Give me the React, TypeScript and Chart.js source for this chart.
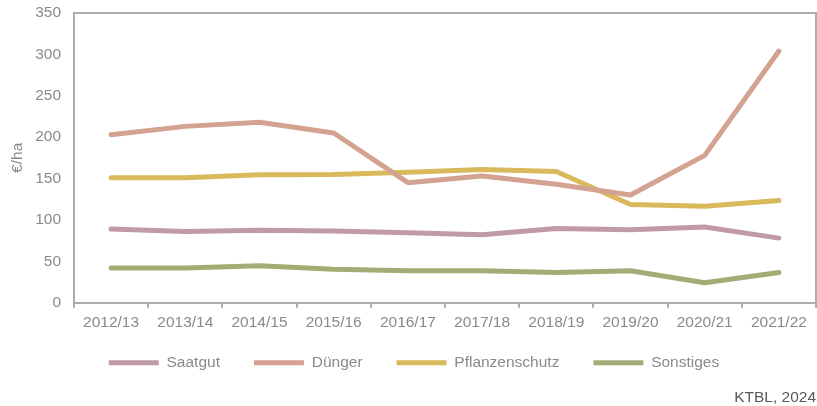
import React, { useEffect, useRef } from "react";
import { Chart, registerables } from "chart.js";

Chart.register(...registerables);

const categories = ["2012/13", "2013/14", "2014/15", "2015/16", "2016/17", "2017/18", "2018/19", "2019/20", "2020/21", "2021/22"];
const saatgut = [89, 86, 87.5, 86.5, 84.5, 82, 89.5, 88, 91.5, 78];
const duenger = [203, 213, 218, 205, 145, 153, 143, 130, 178, 304];
const pflanzenschutz = [151, 151, 154.5, 155, 157.5, 161, 158.5, 118.5, 116.5, 123.5];
const sonstiges = [42, 42, 44.5, 40.5, 38.5, 38.5, 36.5, 38.5, 24, 36.5];
const yTicks = [0, 50, 100, 150, 200, 250, 300, 350];

const FONT = "'Liberation Sans', Arial, sans-serif";
const GRAY_TEXT = "#8a8a8a";
const AXIS = "#acacac";

export default function App() {
  const ref = useRef<HTMLCanvasElement | null>(null);

  useEffect(() => {
    const canvas = ref.current;
    if (!canvas) return;
    Chart.defaults.font.family = FONT;

    const boxPlugin = {
      id: "plotBox",
      afterDatasetsDraw(chart: any) {
        const { ctx, chartArea } = chart;
        ctx.save();
        ctx.strokeStyle = AXIS;
        ctx.lineWidth = 2;
        ctx.beginPath();
        ctx.moveTo(chartArea.left, chartArea.top);
        ctx.lineTo(chartArea.right, chartArea.top);
        ctx.lineTo(chartArea.right, chartArea.bottom);
        ctx.stroke();
        ctx.restore();
      },
    };

    const mk = (label: string, data: number[], color: string) => ({
      label,
      data,
      borderColor: color,
      backgroundColor: color,
      borderWidth: 5,
      borderCapStyle: "round" as const,
      borderJoinStyle: "round" as const,
      pointRadius: 0,
      pointHoverRadius: 0,
      tension: 0,
      fill: false,
    });

    const chart = new Chart(canvas, {
      type: "line",
      data: {
        labels: categories,
        datasets: [
          mk("Saatgut", saatgut, "#c09aa6"),
          mk("Dünger", duenger, "#d3a291"),
          mk("Pflanzenschutz", pflanzenschutz, "#d9b95b"),
          mk("Sonstiges", sonstiges, "#a1ad74"),
        ],
      },
      options: {
        responsive: false,
        animation: false,
        layout: { padding: { top: 13, right: 1, left: 12, bottom: 0 } },
        scales: {
          x: {
            offset: true,
            grid: {
              display: true,
              offset: true,
              drawOnChartArea: false,
              drawTicks: true,
              tickLength: 5,
              color: AXIS,
              lineWidth: 2,
            },
            border: { display: true, color: AXIS, width: 2 },
            ticks: { color: GRAY_TEXT, font: { size: 15.5 }, padding: 6, maxRotation: 0, autoSkip: false },
            afterFit: (s: any) => {
              s.height = 18.25;
              s.paddingLeft = 0;
              s.paddingRight = 0;
              s._computeLabelArea = () => undefined;
            },
          },
          y: {
            min: 0,
            max: 350,
            afterBuildTicks: (s: any) => {
              s.ticks = yTicks.map((v) => ({ value: v }));
            },
            grid: { display: false, drawTicks: false },
            border: { display: true, color: AXIS, width: 2 },
            ticks: { color: GRAY_TEXT, font: { size: 15.5 }, padding: 13 },
            title: { display: true, text: "€/ha", color: GRAY_TEXT, font: { size: 15.5 }, padding: { top: -4, bottom: 0 } },
            afterFit: (s: any) => {
              s.width = 62;
              s.paddingTop = 0;
              s.paddingBottom = 0;
            },
          },
        },
        plugins: {
          legend: {
            display: true,
            position: "bottom",
            align: "center",
            labels: {
              usePointStyle: true,
              pointStyle: "line",
              pointStyleWidth: 50,
              boxHeight: 15.5,
              padding: 34,
              color: GRAY_TEXT,
              font: { size: 15.5 },
            },
          },
          title: {
            display: true,
            text: "KTBL, 2024",
            position: "bottom",
            align: "end",
            color: "#595959",
            font: { size: 15.5, weight: "normal" },
            padding: { top: 8, bottom: -1 },
          },
          tooltip: { enabled: false },
        },
      },
      plugins: [boxPlugin],
    } as any);

    return () => chart.destroy();
  }, []);

  return (
    <div style={{ position: "absolute", left: 0, top: 0, width: 817, height: 406 }}>
      <canvas ref={ref} width={817} height={406} />
    </div>
  );
}
